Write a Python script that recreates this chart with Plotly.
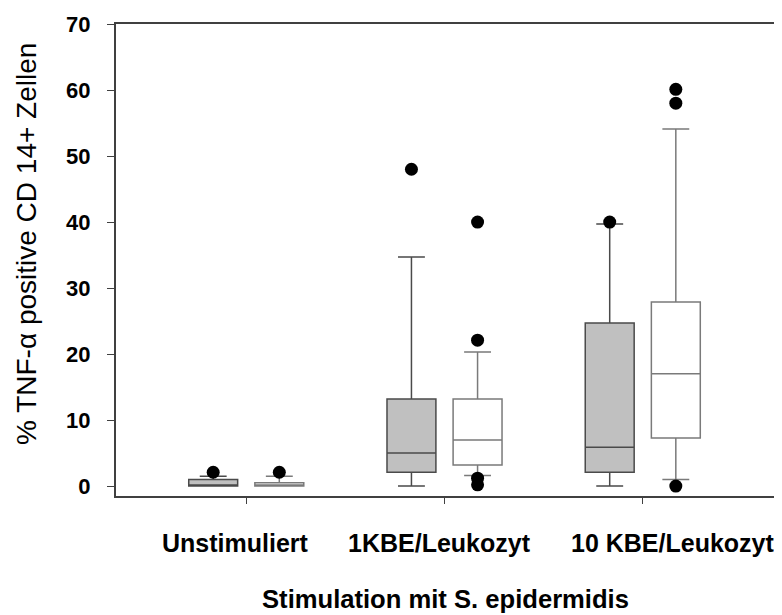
import plotly.graph_objects as go

categories = ["Unstimuliert", "1KBE/Leukozyt", "10 KBE/Leukozyt"]

# grey boxes (series A)
a_q1 = [0.0, 2.1, 2.1]
a_median = [0.0, 5.0, 5.9]
a_q3 = [1.0, 13.2, 24.7]
a_lower = [0.0, 0.0, 0.0]
a_upper = [1.5, 34.7, 39.7]
a_out_cat = ["Unstimuliert", "1KBE/Leukozyt", "10 KBE/Leukozyt"]
a_out_val = [2.1, 48.0, 40.0]

# white boxes (series B)
b_q1 = [0.0, 3.2, 7.3]
b_median = [0.0, 7.0, 17.0]
b_q3 = [0.5, 13.2, 27.9]
b_lower = [0.0, 1.6, 1.0]
b_upper = [1.5, 20.3, 54.1]
b_out_cat = ["Unstimuliert", "1KBE/Leukozyt", "1KBE/Leukozyt", "1KBE/Leukozyt",
             "1KBE/Leukozyt", "10 KBE/Leukozyt", "10 KBE/Leukozyt", "10 KBE/Leukozyt"]
b_out_val = [2.1, 40.0, 22.1, 1.2, 0.2, 60.1, 58.0, 0.0]

y_ticks = [0, 10, 20, 30, 40, 50, 60, 70]

FONT = "Liberation Sans, Arial, sans-serif"
label_xshift = [-11, -5, 30]   # horizontal nudges of the category labels (px)

fig = go.Figure()
fig.add_trace(go.Box(
    x=categories, q1=a_q1, median=a_median, q3=a_q3,
    lowerfence=a_lower, upperfence=a_upper,
    fillcolor="#c0c0c0", line=dict(color="#4a4a4a", width=1.5),
    whiskerwidth=0.55, offsetgroup="A", boxpoints=False, name="A"))
fig.add_trace(go.Box(
    x=categories, q1=b_q1, median=b_median, q3=b_q3,
    lowerfence=b_lower, upperfence=b_upper,
    fillcolor="#ffffff", line=dict(color="#7a7a7a", width=1.5),
    whiskerwidth=0.55, offsetgroup="B", boxpoints=False, name="B"))
fig.add_trace(go.Scatter(
    x=a_out_cat, y=a_out_val, mode="markers", offsetgroup="A",
    marker=dict(color="black", size=13), name="A outliers"))
fig.add_trace(go.Scatter(
    x=b_out_cat, y=b_out_val, mode="markers", offsetgroup="B",
    marker=dict(color="black", size=13), name="B outliers"))

annotations = []
for cat, dx in zip(categories, label_xshift):
    annotations.append(dict(
        text=cat, x=cat, xref="x", y=0, yref="paper",
        xanchor="center", yanchor="top", yshift=-31, xshift=dx,
        showarrow=False, font=dict(size=25, weight="bold", family=FONT, color="black")))
annotations.append(dict(
    text="% TNF-α positive CD 14+ Zellen", textangle=-90,
    x=0, xref="paper", y=0.5, yref="paper",
    xanchor="center", yanchor="middle", xshift=-90, yshift=16,
    showarrow=False, font=dict(size=28, family=FONT, color="black")))

fig.update_layout(
    width=774, height=607,
    margin=dict(l=108, r=7, t=16, b=119),
    paper_bgcolor="white", plot_bgcolor="white",
    showlegend=False,
    boxmode="group", boxgap=0.333, boxgroupgap=0.26,
    scattermode="group", scattergap=0.333,
    font=dict(family=FONT, color="black"),
    annotations=annotations,
)
fig.update_xaxes(
    type="category", categoryorder="array", categoryarray=categories,
    range=[-0.657, 2.667], automargin=False,
    showline=True, linecolor="#404040", linewidth=2, mirror=True,
    showgrid=False, zeroline=False,
    ticks="outside", ticklen=6, tickcolor="#404040", tickwidth=1,
    showticklabels=False,
    title=dict(text="Stimulation mit S. epidermidis",
               font=dict(size=25.6, weight="bold", family=FONT), standoff=87),
)
fig.update_yaxes(
    range=[-1.5, 70], tickvals=y_ticks, automargin=False,
    showline=True, linecolor="#404040", linewidth=2, mirror=True,
    showgrid=False, zeroline=False,
    ticks="outside", ticklen=7, tickcolor="#404040", tickwidth=1,
    tickfont=dict(size=22, weight="bold", family=FONT),
    ticklabelstandoff=12,
)

fig.write_html("out.html")
